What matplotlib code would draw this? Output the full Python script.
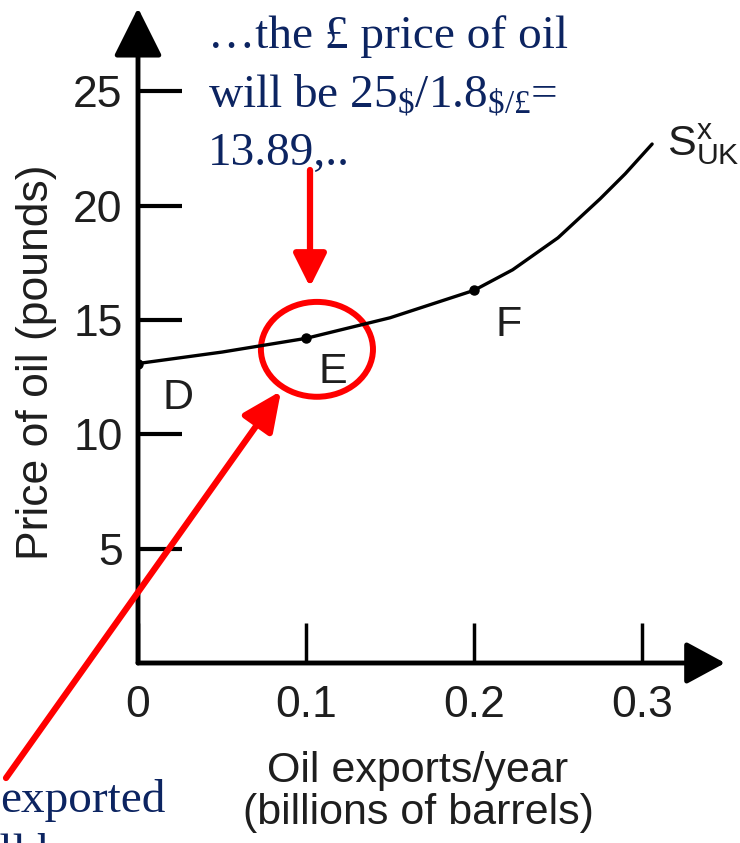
import matplotlib
matplotlib.use('Agg')
import matplotlib.pyplot as plt
from matplotlib.patches import Ellipse

plt.rcParams['mathtext.fontset'] = 'custom'
plt.rcParams['mathtext.rm'] = 'Liberation Serif'
plt.rcParams['mathtext.it'] = 'Liberation Serif'
plt.rcParams['mathtext.sf'] = 'Liberation Sans'
plt.rcParams['font.family'] = ['Liberation Sans', 'DejaVu Sans']

# ---- data ----
exports = [0.0, 0.05, 0.1, 0.15, 0.2, 0.223, 0.25, 0.275, 0.29, 0.306]
price = [13.1, 13.6, 14.2, 15.1, 16.3, 17.2, 18.6, 20.3, 21.4, 22.7]
point_labels = ['D', 'E', 'F']
point_x = [0.0, 0.1, 0.2]
point_y = [13.1, 14.2, 16.3]
xticks = [0, 0.1, 0.2, 0.3]
xtick_labels = ['0', '0.1', '0.2', '0.3']
yticks = [5, 10, 15, 20, 25]
ytick_labels = ['5', '10', '15', '20', '25']
curve_label = r'$\mathsf{S}^{\mathsf{x}}_{\mathsf{UK}}$'
note_lines = ['\u2026the \u00a3 price of oil',
              'will be 25$_{\\$}$/1.8$_{\\$/\u00a3}$=',
              '13.89,..']

W, H = 740, 843
fig = plt.figure(figsize=(W / 100, H / 100), dpi=100)
ax = fig.add_axes([138 / W, 180 / H, 602 / W, 663 / H])
ax.set_xlim(0, 0.3583)
ax.set_ylim(0, 29.0)
for s in ax.spines.values():
    s.set_visible(False)

txtc = '#1e1e1e'
blue = '#0c2461'
red = '#ff0000'
serif = ['Liberation Serif', 'DejaVu Serif']

# axes with arrowheads
ax.annotate('', xy=(0, 28.65), xytext=(0, 0),
            arrowprops=dict(arrowstyle='-|>,head_length=30,head_width=15',
                            mutation_scale=1, lw=3.5, color='k',
                            shrinkA=0, shrinkB=0),
            annotation_clip=False)
ax.annotate('', xy=(0.3494, 0), xytext=(0, 0),
            arrowprops=dict(arrowstyle='-|>,head_length=24,head_width=13',
                            mutation_scale=1, lw=3.5, color='k',
                            shrinkA=0, shrinkB=0),
            annotation_clip=False)

ax.set_xticks(xticks)
ax.set_xticklabels(xtick_labels)
ax.set_yticks(yticks)
ax.set_yticklabels(ytick_labels)
ax.tick_params(axis='y', direction='in', length=32, width=3, pad=11,
               labelsize=32, labelcolor=txtc)
ax.tick_params(axis='x', direction='in', length=29, width=2.5, pad=16,
               labelsize=32, labelcolor=txtc)

# supply curve
ax.plot(exports, price, color='k', lw=2.4, solid_capstyle='round',
        solid_joinstyle='round')
ax.plot(point_x, point_y, 'o', color='k', ms=6.5)
offsets = [(29, -25), (19, -24), (25, -25)]
for lab, px, py, off in zip(point_labels, point_x, point_y, offsets):
    ax.annotate(lab, (px, py), xytext=off, textcoords='offset points',
                ha='center', va='center', fontsize=31, color=txtc)
ax.annotate(curve_label, (exports[-1], price[-1]), xytext=(11, 0),
            textcoords='offset points', ha='left', va='center',
            fontsize=31, color=txtc)

# red circle around E
ax.add_patch(Ellipse((0.1065, 13.72), 0.0667, 4.15, fill=False,
                     ec=red, lw=4.3, clip_on=False))

# axis labels
fig.text(418 / W, (H - 792) / H, 'Oil exports/year\n(billions of barrels)',
         ha='center', va='center', fontsize=31, color=txtc, linespacing=1.05)
fig.text(37 / W, (H - 362) / H, 'Price of oil (pounds)', rotation=90,
         ha='center', va='center', fontsize=32, color=txtc)

# blue annotation text
for line, base in zip(note_lines, [48, 108, 165]):
    fig.text(208 / W, (H - base) / H, line, ha='left', va='baseline',
             fontsize=34, color=blue, family=serif)
fig.text(0 / W, (H - 812) / H, 'exported', ha='left', va='baseline',
         fontsize=34, color=blue, family=serif)
fig.text(-48 / W, (H - 866) / H, 'will be', ha='left', va='baseline',
         fontsize=34, color=blue, family=serif)

# red arrows
ax.annotate('', xy=(310, H - 287), xycoords='figure pixels',
            xytext=(310, H - 170), textcoords='figure pixels',
            arrowprops=dict(arrowstyle='-|>,head_length=20,head_width=10',
                            mutation_scale=1, lw=4.5, color=red,
                            shrinkA=0, shrinkB=0),
            annotation_clip=False)
ax.annotate('', xy=(281, H - 391), xycoords='figure pixels',
            xytext=(6, H - 778), textcoords='figure pixels',
            arrowprops=dict(arrowstyle='-|>,head_length=24,head_width=11',
                            mutation_scale=1, lw=4.5, color=red,
                            shrinkA=0, shrinkB=0),
            annotation_clip=False)

fig.savefig('out.png', dpi=100)
